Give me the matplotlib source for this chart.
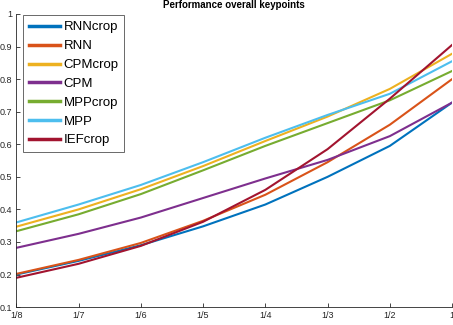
import numpy as np
import matplotlib.pyplot as plt

tick_labels = ['1/8', '1/7', '1/6', '1/5', '1/4', '1/3', '1/2', '1']
names = ['RNNcrop', 'RNN', 'CPMcrop', 'CPM', 'MPPcrop', 'MPP', 'IEFcrop']
colors = ['#0072BD', '#D95319', '#EDB120', '#7E2F8E', '#77AC30', '#4DBEEE', '#A2142F']

rnn_crop = [0.200, 0.242, 0.290, 0.348, 0.415, 0.500, 0.595, 0.728]
rnn = [0.202, 0.245, 0.297, 0.365, 0.445, 0.545, 0.660, 0.800]
cpm_crop = [0.347, 0.400, 0.462, 0.533, 0.610, 0.685, 0.770, 0.878]
cpm = [0.282, 0.325, 0.375, 0.435, 0.495, 0.552, 0.625, 0.728]
mpp_crop = [0.333, 0.385, 0.447, 0.520, 0.595, 0.665, 0.735, 0.825]
mpp = [0.360, 0.415, 0.475, 0.545, 0.620, 0.690, 0.755, 0.855]
ief_crop = [0.190, 0.233, 0.288, 0.362, 0.460, 0.585, 0.740, 0.905]

series = [rnn_crop, rnn, cpm_crop, cpm, mpp_crop, mpp, ief_crop]

plt.rc('font', family='Liberation Sans')
fig = plt.figure(figsize=(4.53, 3.25), dpi=100)
ax = fig.add_axes([0.036, 0.055, 0.962, 0.902])

x = np.arange(len(tick_labels))
for vals, name, c in zip(series, names, colors):
    ax.plot(x, vals, color=c, lw=1.5, label=name)

ax.set_xlim(0, len(tick_labels) - 1)
ax.set_ylim(0.1, 1.0)
ax.set_xticks(x)
ax.set_xticklabels(tick_labels, fontsize=6.5)
ax.set_yticks(np.arange(0.1, 1.01, 0.1))
ax.set_yticklabels(['0.1', '0.2', '0.3', '0.4', '0.5', '0.6', '0.7', '0.8', '0.9', '1'], fontsize=6.5)
ax.tick_params(direction='in', length=3, width=0.6, colors='#262626', pad=3)
for s in ['top', 'right']:
    ax.spines[s].set_visible(False)
for s in ['left', 'bottom']:
    ax.spines[s].set_color('#262626')
    ax.spines[s].set_linewidth(0.6)

ax.set_title('Performance overall keypoints', fontsize=7, fontweight='bold', pad=4)

leg = ax.legend(loc='upper left', bbox_to_anchor=(0.013, 1.0), borderaxespad=0.1,
                fontsize=9.5, frameon=True, fancybox=False,
                handlelength=2.3, handletextpad=0.3, labelspacing=0.5,
                borderpad=0.45)
leg.get_frame().set_edgecolor('#262626')
leg.get_frame().set_linewidth(0.6)
for line in leg.get_lines():
    line.set_linewidth(2.5)

plt.savefig('out.png', dpi=100)
plt.close()
